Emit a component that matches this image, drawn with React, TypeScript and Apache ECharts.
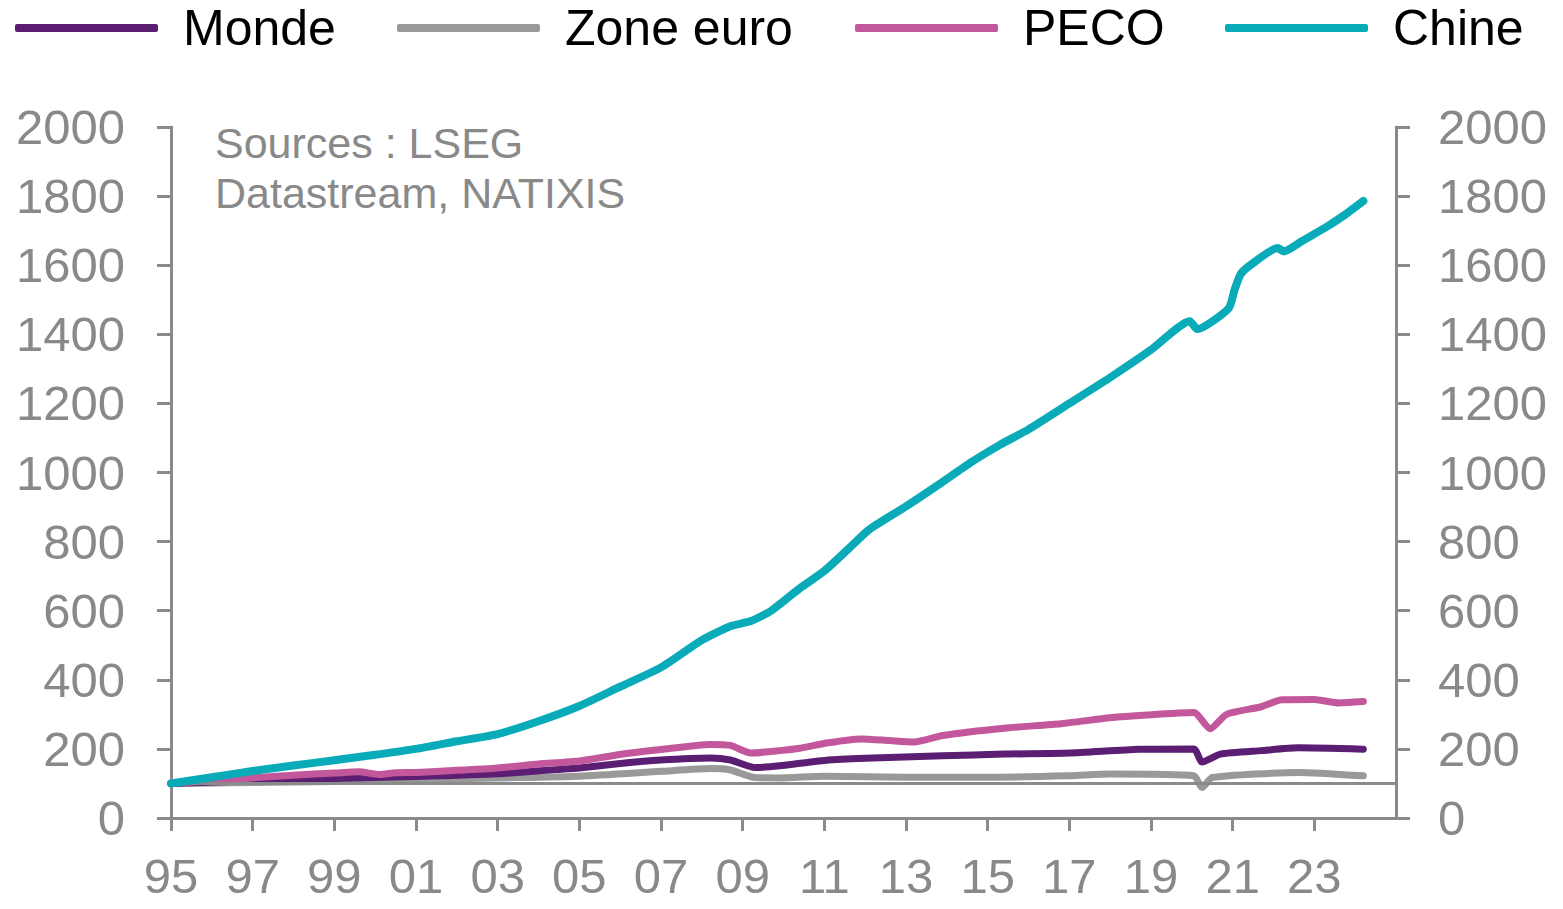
import React, { useEffect, useRef } from "react";
import * as echarts from "echarts";

const SERIES_NAMES = ["Monde", "Zone euro", "PECO", "Chine"];
const COLORS = ["#5b1e73", "#999999", "#c2589b", "#0aabb8"];

const MONDE: [number, number][] = [
  [1995, 100], [1997, 108], [1999, 114], [2001, 120], [2003, 128], [2004.4, 140], [2005, 145],
  [2006, 158], [2007, 168], [2008.2, 174], [2008.7, 168], [2009.3, 146], [2009.9, 151],
  [2011.1, 168], [2012, 173], [2013.9, 180], [2015.4, 185], [2017, 188], [2018.7, 199],
  [2020.05, 200], [2020.25, 162], [2020.7, 185], [2021.7, 195], [2022.6, 203], [2024.2, 199],
];

const ZONE_EURO: [number, number][] = [
  [1995, 100], [1997, 103], [1999, 106], [2001, 111], [2003, 116], [2005, 121], [2007, 135],
  [2008.2, 143], [2008.7, 139], [2009.3, 117], [2009.9, 116], [2011, 121], [2013, 118],
  [2015, 118], [2017, 122], [2018, 127], [2020.05, 122], [2020.25, 88], [2020.5, 117],
  [2022.6, 132], [2024.2, 122],
];

const PECO: [number, number][] = [
  [1995, 100], [1996, 108], [1997, 116], [1998, 124], [1999, 130], [1999.6, 134], [2000.1, 126],
  [2000.5, 131], [2001, 132], [2002, 138], [2003, 145], [2004, 156], [2005, 165], [2006, 184],
  [2007, 198], [2008.2, 213], [2008.7, 210], [2009.2, 188], [2009.9, 195], [2010.4, 202],
  [2011.1, 218], [2011.9, 229], [2012.6, 224], [2013.2, 220], [2013.9, 239], [2015.4, 260],
  [2016.8, 273], [2018, 290], [2018.9, 298], [2020.05, 305], [2020.45, 258], [2020.85, 300],
  [2021.7, 322], [2022.2, 342], [2023.0, 343], [2023.6, 333], [2024.2, 337],
];

const CHINE: [number, number][] = [
  [1995, 100], [1996, 118], [1997, 136], [1998, 152], [1999, 167], [2000, 183], [2001, 200],
  [2002, 222], [2003, 243], [2004, 280], [2005, 324], [2006, 380], [2007, 436], [2008, 515],
  [2008.7, 555], [2009.2, 570], [2009.7, 600], [2010.4, 665], [2011, 715], [2011.6, 780],
  [2012.1, 835], [2013, 902], [2013.8, 965], [2014.6, 1030], [2015.3, 1080], [2016, 1125],
  [2017, 1200], [2018, 1275], [2019, 1355], [2019.95, 1438], [2020.13, 1415], [2020.9, 1475],
  [2021.05, 1530], [2021.2, 1575], [2021.5, 1606], [2022.1, 1650], [2022.25, 1640],
  [2022.7, 1670], [2023.3, 1711], [2023.7, 1742], [2024.2, 1786],
];

const X_TICKS = [1995, 1997, 1999, 2001, 2003, 2005, 2007, 2009, 2011, 2013, 2015, 2017, 2019, 2021, 2023];
const BASE_LINE = 100;
const SOURCE_TEXT = "Sources : LSEG\nDatastream, NATIXIS";

const FONT = "'Liberation Sans', Arial, sans-serif";
const AXIS_GRAY = "#8a8a8a";
const LABEL_GRAY = "#898989";

export default function App() {
  const ref = useRef<HTMLDivElement>(null);
  useEffect(() => {
    if (!ref.current) return;
    const chart = echarts.init(ref.current, undefined, { renderer: "svg" });
    const datasets = [MONDE, ZONE_EURO, PECO, CHINE];
    const zs = [3, 2, 4, 5];
    const legendLefts = [10, 392, 850, 1220];

    const yAxisCommon = {
      type: "value",
      min: 0,
      max: 2000,
      interval: 200,
      splitLine: { show: false },
      axisLine: { show: true, lineStyle: { color: AXIS_GRAY, width: 3 } },
      axisTick: { show: true, length: 14, lineStyle: { color: AXIS_GRAY, width: 3 } },
    };
    const yFmt = (v: number) => String(v);

    chart.setOption({
      animation: false,
      backgroundColor: "#ffffff",
      legend: SERIES_NAMES.map((n, i) => ({
        data: [n],
        left: legendLefts[i],
        top: -2,
        itemWidth: 143,
        itemHeight: 8,
        icon: "roundRect",
        textStyle: { fontSize: 50, color: "#000000", fontFamily: FONT, padding: [0, 0, 0, 20] },
      })),
      grid: { left: 171, right: 167, top: 127, bottom: 91, containLabel: false, outerBoundsMode: "none" },
      xAxis: {
        type: "value",
        min: 1995,
        max: 2025,
        splitLine: { show: false },
        axisLine: { show: true, lineStyle: { color: AXIS_GRAY, width: 3 } },
        axisTick: { show: true, length: 13, customValues: X_TICKS, lineStyle: { color: AXIS_GRAY, width: 3 } },
        axisLabel: {
          customValues: X_TICKS,
          margin: 33,
          fontSize: 49,
          color: LABEL_GRAY,
          fontFamily: FONT,
          formatter: (v: number) => String(Math.round(v) % 100).padStart(2, "0"),
        },
      },
      yAxis: [
        {
          ...yAxisCommon,
          position: "left",
          axisLabel: { margin: 46, fontSize: 49, color: LABEL_GRAY, fontFamily: FONT, formatter: yFmt },
        },
        {
          ...yAxisCommon,
          position: "right",
          axisLabel: { margin: 42, fontSize: 49, color: LABEL_GRAY, fontFamily: FONT, formatter: yFmt },
        },
      ],
      graphic: [
        {
          type: "text",
          left: 215,
          top: 118,
          style: {
            text: SOURCE_TEXT,
            fontSize: 43,
            lineHeight: 50,
            fill: LABEL_GRAY,
            fontFamily: FONT,
          },
        },
      ],
      series: SERIES_NAMES.map((n, i) => ({
        name: n,
        type: "line",
        data: datasets[i],
        yAxisIndex: 0,
        showSymbol: false,
        symbol: "none",
        smooth: 0.2,
        z: zs[i],
        color: COLORS[i],
        itemStyle: { color: COLORS[i] },
        lineStyle: { color: COLORS[i], width: i === 3 ? 8 : 7, cap: "round", join: "round" },
        markLine:
          i === 1
            ? {
                silent: true,
                symbol: "none",
                label: { show: false },
                lineStyle: { color: AXIS_GRAY, width: 3, type: "solid" },
                data: [{ yAxis: BASE_LINE }],
              }
            : undefined,
      })),
    });
    return () => chart.dispose();
  }, []);
  return (
    <div
      ref={ref}
      style={{ position: "absolute", left: 0, top: 0, width: 1563, height: 909 }}
    />
  );
}
